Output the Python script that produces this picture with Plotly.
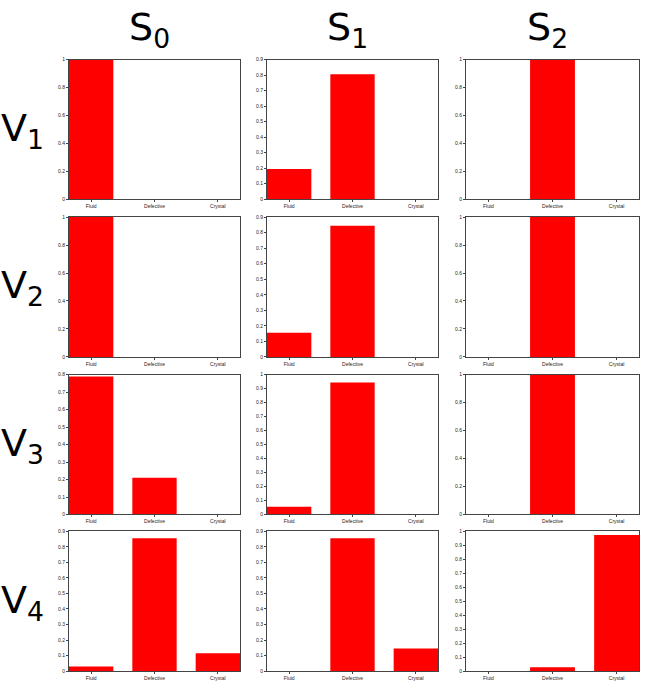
import plotly.graph_objects as go

categories = ["Fluid", "Defective", "Crystal"]
col_titles = ["S<sub>0</sub>", "S<sub>1</sub>", "S<sub>2</sub>"]
row_titles = ["V<sub>1</sub>", "V<sub>2</sub>", "V<sub>3</sub>", "V<sub>4</sub>"]

# values[row][col] -> [Fluid, Defective, Crystal]
S0 = [[1.0, 0.0, 0.0], [1.0, 0.0, 0.0], [0.79, 0.21, 0.0], [0.03, 0.855, 0.115]]
S1 = [[0.195, 0.805, 0.0], [0.155, 0.845, 0.0], [0.055, 0.945, 0.0], [0.0, 0.855, 0.145]]
S2 = [[0.0, 1.0, 0.0], [0.0, 1.0, 0.0], [0.0, 1.0, 0.0], [0.0, 0.027, 0.973]]
columns = [S0, S1, S2]

# axis max and tick step per panel [row][col]
ymax = [[1.0, 0.9, 1.0], [1.0, 0.9, 1.0], [0.8, 1.0, 1.0], [0.9, 0.9, 1.0]]
ystep = [[0.2, 0.1, 0.2], [0.2, 0.1, 0.2], [0.1, 0.1, 0.2], [0.1, 0.1, 0.1]]

W, H = 645, 687
col_px = [(69, 240), (267, 438), (466, 639)]
row_px = [(57, 198), (216, 357), (375, 516), (533, 674)]

fig = go.Figure()
layout = dict(
    width=W, height=H, margin=dict(l=0, r=0, t=0, b=0),
    paper_bgcolor="white", plot_bgcolor="white", showlegend=False,
    font=dict(family="DejaVu Sans", color="black"),
)
ann = []
axcol = "#444444"
for r in range(4):
    for c in range(3):
        i = r * 3 + c + 1
        xa = "x" if i == 1 else f"x{i}"
        ya = "y" if i == 1 else f"y{i}"
        fig.add_trace(go.Bar(
            x=categories, y=columns[c][r], width=0.7,
            marker=dict(color="#ff0000", line=dict(width=0)),
            xaxis=xa, yaxis=ya, hoverinfo="x+y",
        ))
        x0, x1 = col_px[c]
        y0, y1 = row_px[r]
        layout["xaxis" if i == 1 else f"xaxis{i}"] = dict(
            domain=[x0 / W, x1 / W], anchor=ya, type="category",
            range=[-0.35, 2.35], showline=True, linecolor=axcol, linewidth=1,
            mirror=True, ticks="outside", ticklen=2, tickcolor=axcol,
            tickfont=dict(size=5, color="#222", family="Liberation Sans"),
            showgrid=False, zeroline=False, fixedrange=True,
        )
        layout["yaxis" if i == 1 else f"yaxis{i}"] = dict(
            domain=[1 - y1 / H, 1 - y0 / H], anchor=xa,
            range=[0, ymax[r][c]], dtick=ystep[r][c], tick0=0,
            showline=True, linecolor=axcol, linewidth=1, mirror=True,
            ticks="outside", ticklen=2, tickcolor=axcol,
            tickfont=dict(size=5, color="#222", family="Liberation Sans"),
            showgrid=False, zeroline=False, fixedrange=True,
        )

for c in range(3):
    x0, x1 = col_px[c]
    ann.append(dict(text=col_titles[c], x=((x0 + x1) / 2 - 5) / W, y=1.0,
                    xref="paper", yref="paper", showarrow=False,
                    xanchor="center", yanchor="top",
                    font=dict(size=38, color="black")))
for r in range(4):
    y0, y1 = row_px[r]
    ann.append(dict(text=row_titles[r], x=22 / W, y=1 - ((y0 + y1) / 2 + 1) / H,
                    xref="paper", yref="paper", showarrow=False,
                    xanchor="center", yanchor="middle",
                    font=dict(size=38, color="black")))
layout["annotations"] = ann
fig.update_layout(**layout)
fig.write_html("out.html")
